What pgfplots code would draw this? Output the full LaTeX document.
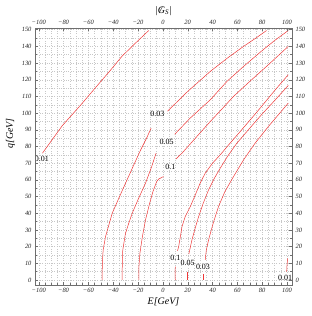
\documentclass[border=0pt]{standalone}
\usepackage{fontspec}
\setmainfont{Liberation Serif}
\usepackage{pgfplots}
\pgfplotsset{compat=1.18}
\definecolor{cl}{RGB}{238,55,55}
\definecolor{fr}{RGB}{110,110,110}
\tikzset{clab/.style={font=\fontsize{8}{9}\selectfont, inner sep=0pt}}
\begin{document}
\begin{tikzpicture}
\pgfplotsset{
  frame/.style={
    scale only axis, width=257bp, height=257bp,
    xmin=-103, xmax=104, ymin=-3, ymax=151,
    xtick={-100,-80,...,100},
    ytick={0,10,...,150},
    xticklabels={\textit{−100},\textit{−80},\textit{−60},\textit{−40},\textit{−20},\textit{0},\textit{20},\textit{40},\textit{60},\textit{80},\textit{100}},
    yticklabels={\textit{0},\textit{10},\textit{20},\textit{30},\textit{40},\textit{50},\textit{60},\textit{70},\textit{80},\textit{90},\textit{100},\textit{110},\textit{120},\textit{130},\textit{140},\textit{150}},
    tick label style={font=\fontsize{6.5}{7}\selectfont, text=black!85},
    tick align=inside,
    major tick length=3bp, minor tick length=1.5bp,
    minor x tick num=3, minor y tick num=1,
    axis line style={fr},
    every tick/.style={fr},
    clip=false,
  },
}
\begin{axis}[frame,
  xticklabel pos=lower, yticklabel pos=left,
  grid=both, grid style={dash pattern=on 0.6pt off 1.8pt, black!22}, major grid style={dash pattern=on 0.6pt off 1.8pt, black!22},
  xlabel={\textit{E[GeV]}}, ylabel={\textit{q[GeV]}},
  xlabel style={font=\fontsize{10}{11}\selectfont, yshift=2pt},
  ylabel style={font=\fontsize{10}{11}\selectfont, at={(ticklabel cs:0.59)}},
]
\coordinate (sw) at (rel axis cs:0,0);
% 0.01 left
\addplot[cl, line width=0.5pt] coordinates {(-97,76) (-81,92.5) (-66,105) (-54,115.5) (-43,125) (-33,134) (-22,142) (-11.4,149.5)};
\node[clab] at (axis cs:-97.5,72.5) {0.01};
% 0.03 left
\addplot[cl, line width=0.5pt] coordinates {(-48.9,0) (-48.8,10) (-48.1,18) (-46.2,26) (-43.5,33) (-40.8,40) (-35.5,49) (-30.1,58) (-24,68) (-18.5,77) (-12.5,86) (-9.5,91)};
\node[clab] at (axis cs:-4.5,99.5) {0.03};
\addplot[cl, line width=0.5pt] coordinates {(3.8,101.2) (20,113) (38.2,125) (52,133) (65,140) (75,145) (83.5,149.5)};
% 0.05 left
\addplot[cl, line width=0.5pt] coordinates {(-32.8,0) (-32.7,10) (-32.3,18) (-30.1,28) (-27.5,34) (-24.7,40) (-19.5,49) (-14,58) (-9,68) (-5.5,76)};
\node[clab] at (axis cs:3,83) {0.05};
\addplot[cl, line width=0.5pt] coordinates {(9.5,87.3) (22,97) (38.2,108) (51.6,119) (65,128) (80,137.5) (90,143.5) (101,149.5)};
% 0.1 left
\addplot[cl, line width=0.5pt] coordinates {(-19.4,0) (-19.3,8) (-18.5,16) (-16.5,26) (-14,36) (-11,45) (-8,53) (-5,59) (-3.4,60.5) (0.6,62)};
\node[clab] at (axis cs:6,67.5) {0.1};
\addplot[cl, line width=0.5pt] coordinates {(10.5,72.5) (15.4,76) (25,84) (38.2,95) (47,102) (56.9,110) (70,119) (85,129) (101,140)};
% 0.1 right
\addplot[cl, line width=0.5pt] coordinates {(10,0) (9.8,4) (10,8)};
\node[clab] at (axis cs:10,13) {0.1};
\addplot[cl, line width=0.5pt] coordinates {(11.8,17.5) (12.7,20) (14.1,26) (15.4,32) (18,38) (22.1,44) (26.1,51) (30,58) (34.1,64) (40,70) (46.2,75) (53,81) (60,87) (75,100) (90,113.5) (101,123)};
% 0.05 right
\addplot[cl, line width=0.5pt] coordinates {(19.4,0) (19.4,5)};
\node[clab] at (axis cs:20,10) {0.05};
\addplot[cl, line width=0.5pt] coordinates {(20.9,15.5) (23.4,24) (26,31) (28.8,38) (32.5,46) (36.8,54) (41.5,61) (46.2,67) (52,74) (59.6,82) (70,91) (80,99.5) (90,107.5) (101,116.6)};
% 0.03 right
\addplot[cl, line width=0.5pt] coordinates {(32.8,0) (32.8,3.5)};
\node[clab] at (axis cs:32.3,7.6) {0.03};
\addplot[cl, line width=0.5pt] coordinates {(34.1,12) (35,18) (36.8,24) (40.5,34) (44.8,44) (50,53) (56.9,62) (65,72) (74.3,82) (85,92) (93,99) (101,106)};
% 0.01 right
\addplot[cl, line width=0.5pt] coordinates {(99.7,5) (100,9) (100.5,13)};
\node[clab] at (axis cs:98.5,1.3) {0.01};
\end{axis}
\begin{axis}[frame,
  xticklabel pos=upper, yticklabel pos=right,
  xlabel={{\itshape |\rlap{\kern0.15em/}G\textsubscript{S}|}},
  xlabel style={font=\fontsize{10}{11}\selectfont, yshift=-2pt},
]
\addplot[draw=none] coordinates {(0,0)};
\end{axis}
\pgfresetboundingbox
\path (sw) ++(-35bp,-31bp) rectangle ++(312bp,316bp);
\end{tikzpicture}
\end{document}
